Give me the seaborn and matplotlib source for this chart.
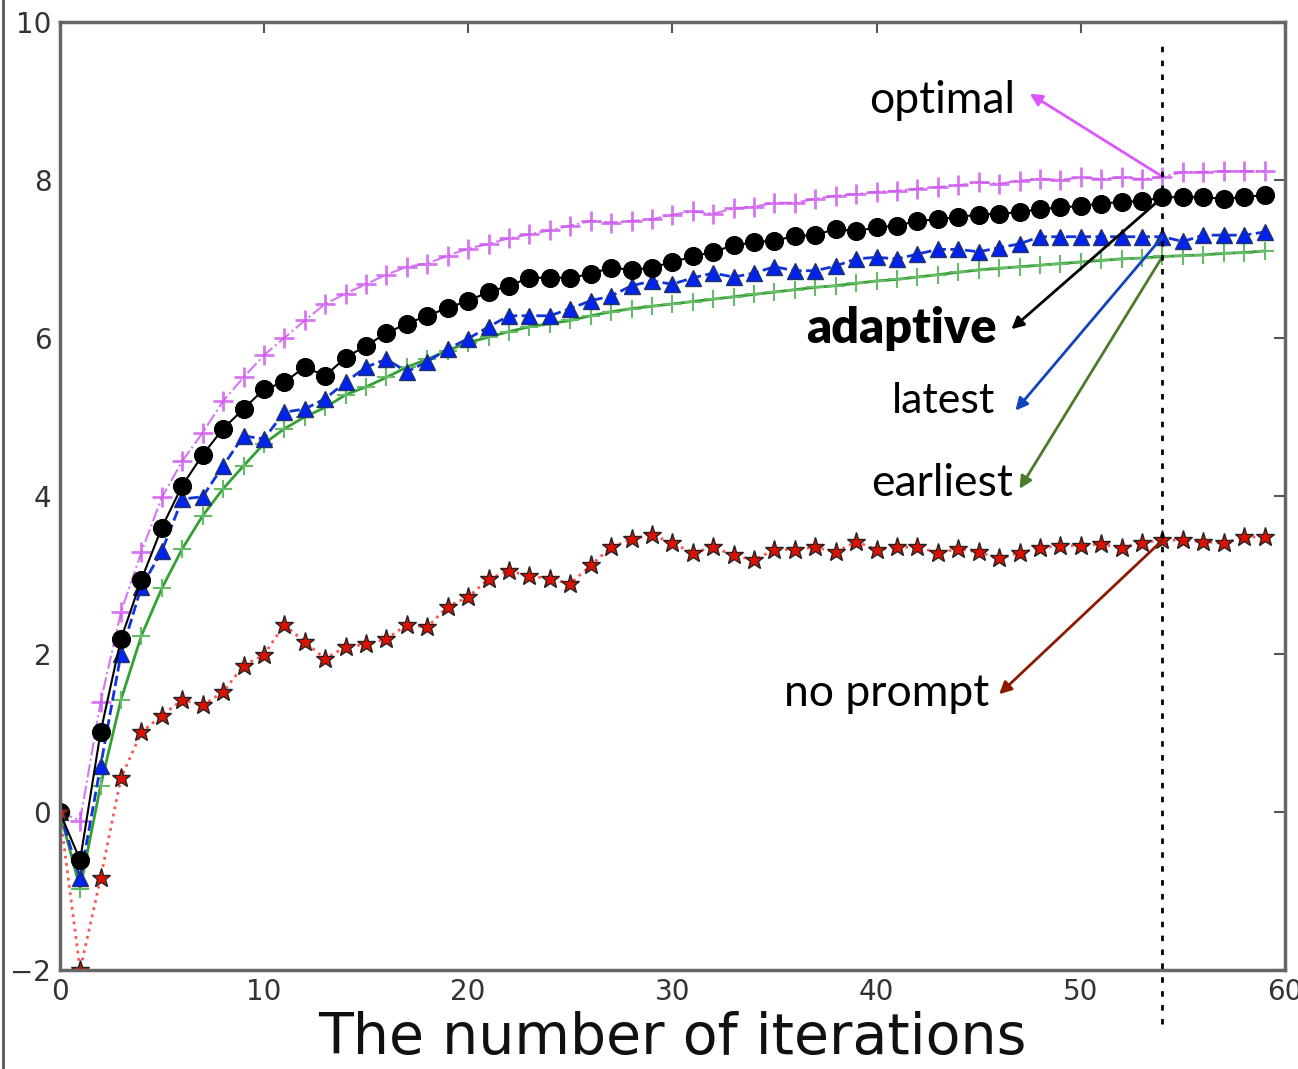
import numpy as np
import pandas as pd
import matplotlib
matplotlib.use("Agg")
import matplotlib.pyplot as plt
import seaborn as sns
from matplotlib.lines import Line2D

iterations = list(range(60))

optimal = [0.0, -0.11, 1.39, 2.53, 3.29, 3.98, 4.44, 4.8, 5.2, 5.5,
           5.78, 6.0, 6.22, 6.43, 6.56, 6.68, 6.8, 6.9, 6.94, 7.04,
           7.13, 7.19, 7.26, 7.31, 7.36, 7.42, 7.48, 7.46, 7.48, 7.5,
           7.56, 7.6, 7.57, 7.64, 7.66, 7.71, 7.71, 7.76, 7.8, 7.82,
           7.85, 7.86, 7.89, 7.91, 7.93, 7.97, 7.95, 7.99, 8.01, 8.0,
           8.03, 8.01, 8.03, 8.01, 8.04, 8.1, 8.1, 8.11, 8.11, 8.11]

adaptive = [0.0, -0.61, 1.01, 2.19, 2.94, 3.6, 4.13, 4.52, 4.85, 5.1,
            5.35, 5.44, 5.63, 5.52, 5.75, 5.9, 6.06, 6.18, 6.28, 6.38,
            6.47, 6.58, 6.66, 6.76, 6.76, 6.76, 6.81, 6.89, 6.86, 6.89,
            6.96, 7.03, 7.09, 7.17, 7.21, 7.23, 7.29, 7.3, 7.38, 7.35,
            7.4, 7.42, 7.48, 7.5, 7.53, 7.56, 7.57, 7.59, 7.63, 7.65,
            7.67, 7.7, 7.72, 7.73, 7.78, 7.78, 7.78, 7.76, 7.78, 7.81]

latest = [0.0, -0.84, 0.58, 2.0, 2.85, 3.3, 3.96, 3.99, 4.38, 4.76,
          4.72, 5.06, 5.1, 5.23, 5.44, 5.63, 5.73, 5.57, 5.7, 5.86,
          5.99, 6.14, 6.28, 6.28, 6.28, 6.37, 6.47, 6.53, 6.66, 6.72,
          6.68, 6.76, 6.82, 6.77, 6.82, 6.9, 6.85, 6.85, 6.91, 7.0,
          7.02, 7.0, 7.06, 7.12, 7.12, 7.09, 7.14, 7.19, 7.28, 7.28,
          7.28, 7.28, 7.28, 7.28, 7.28, 7.22, 7.3, 7.3, 7.3, 7.34]

earliest = [0.0, -0.97, 0.33, 1.42, 2.23, 2.83, 3.33, 3.75, 4.09, 4.38,
            4.66, 4.85, 5.0, 5.12, 5.28, 5.38, 5.5, 5.63, 5.73, 5.84,
            5.94, 6.01, 6.08, 6.14, 6.18, 6.22, 6.28, 6.33, 6.37, 6.4,
            6.43, 6.46, 6.49, 6.52, 6.55, 6.58, 6.61, 6.64, 6.66, 6.69,
            6.72, 6.74, 6.77, 6.8, 6.83, 6.86, 6.88, 6.9, 6.92, 6.94,
            6.96, 6.98, 7.0, 7.01, 7.03, 7.04, 7.05, 7.07, 7.08, 7.1]

no_prompt = [0.0, -2.0, -0.84, 0.43, 1.01, 1.22, 1.42, 1.35, 1.52, 1.85,
             1.99, 2.37, 2.15, 1.94, 2.09, 2.12, 2.19, 2.37, 2.34, 2.6,
             2.72, 2.95, 3.05, 2.99, 2.95, 2.89, 3.12, 3.35, 3.45, 3.51,
             3.4, 3.28, 3.35, 3.25, 3.19, 3.32, 3.32, 3.35, 3.29, 3.42,
             3.32, 3.35, 3.35, 3.28, 3.33, 3.29, 3.21, 3.28, 3.34, 3.37,
             3.37, 3.39, 3.34, 3.41, 3.44, 3.44, 3.42, 3.4, 3.48, 3.48]

labels = ["optimal", "adaptive", "latest", "earliest", "no prompt"]
x_ticks = [0, 10, 20, 30, 40, 50, 60]
y_ticks = [-2, 0, 2, 4, 6, 8, 10]
marked_iteration = 54

sns.set_style("white")
plt.rcParams["font.family"] = ["DejaVu Sans"]

fig = plt.figure(figsize=(12.98, 10.69), dpi=100)
ax = fig.add_axes([0.046, 0.0926, 0.944, 0.887])

df = pd.DataFrame({"iteration": iterations, "optimal": optimal, "adaptive": adaptive,
                   "latest": latest, "earliest": earliest, "no prompt": no_prompt})

sns.lineplot(data=df, x="iteration", y="optimal", ax=ax, color="#cc55ee", linestyle="-.",
             linewidth=1.5, marker="+", markersize=14, markeredgewidth=2,
             markeredgecolor="#cc55ee", alpha=0.8)
sns.lineplot(data=df, x="iteration", y="earliest", ax=ax, color="#33a033", linestyle="-",
             linewidth=2, marker="+", markersize=13, markeredgewidth=1.5,
             markeredgecolor="#66bb66")
sns.lineplot(data=df, x="iteration", y="latest", ax=ax, color="#1133dd", linestyle="--",
             linewidth=2, marker="^", markersize=12, markerfacecolor="#0022ee",
             markeredgecolor="#223366", markeredgewidth=1)
sns.lineplot(data=df, x="iteration", y="adaptive", ax=ax, color="black", linestyle="-",
             linewidth=1.5, marker="o", markersize=13, markerfacecolor="black",
             markeredgecolor="black")
sns.lineplot(data=df, x="iteration", y="no prompt", ax=ax, color="#ff5555", linestyle=":",
             linewidth=2, marker="*", markersize=14, markerfacecolor="#dd1100",
             markeredgecolor="#222222", markeredgewidth=1)

ax.set_xlim(0, 60)
ax.set_ylim(-2, 10)
ax.set_xticks(x_ticks)
ax.set_yticks(y_ticks)
ax.set_yticklabels(["\u22122" if v == -2 else str(v) for v in y_ticks])
ax.tick_params(axis="both", direction="in", length=8, width=1.5, labelsize=20,
               colors="#555555", labelcolor="#333333", top=True, right=True, pad=6)
ax.set_ylabel("")
ax.set_xlabel("The number of iterations", fontsize=41, color="#111111", labelpad=3)
for s in ax.spines.values():
    s.set_color("#666666")
    s.set_linewidth(2.5)

# vertical dotted marker line
ax.axvline(marked_iteration, ymin=-0.057, ymax=0.977, color="black", linestyle=(0, (2, 3)),
           linewidth=2, clip_on=False, zorder=10)

ann_font = ["Lato", "DejaVu Sans"]
series = {"optimal": optimal, "adaptive": adaptive, "latest": latest,
          "earliest": earliest, "no prompt": no_prompt}
text_pos = {"optimal": (46.8, 9.0), "adaptive": (45.9, 6.12), "latest": (45.8, 5.2),
            "earliest": (46.7, 4.16), "no prompt": (45.5, 1.5)}
text_size = {"optimal": 32, "adaptive": 35, "latest": 31, "earliest": 32, "no prompt": 32}
head_pos = {"optimal": (47.5, 9.09), "adaptive": (46.6, 6.11), "latest": (46.8, 5.08),
            "earliest": (47.0, 4.09), "no prompt": (46.0, 1.49)}
arrow_col = {"optimal": "#dd55ff", "adaptive": "black", "latest": "#1144bb",
             "earliest": "#4a7a2a", "no prompt": "#8b1a00"}
for name in labels:
    tx, ty = text_pos[name]
    ax.text(tx, ty, name, ha="right", va="center", fontsize=text_size[name], family=ann_font,
            fontweight="heavy" if name == "adaptive" else "normal", color="black")
    ax.annotate("", xy=head_pos[name], xytext=(marked_iteration, series[name][marked_iteration]),
                arrowprops=dict(arrowstyle="-|>", color=arrow_col[name], lw=2,
                                mutation_scale=18, shrinkA=0, shrinkB=0))

fig.add_artist(Line2D([0.002, 0.002], [0, 1], color="#555555", linewidth=2))

fig.savefig("out.png", dpi=100)
